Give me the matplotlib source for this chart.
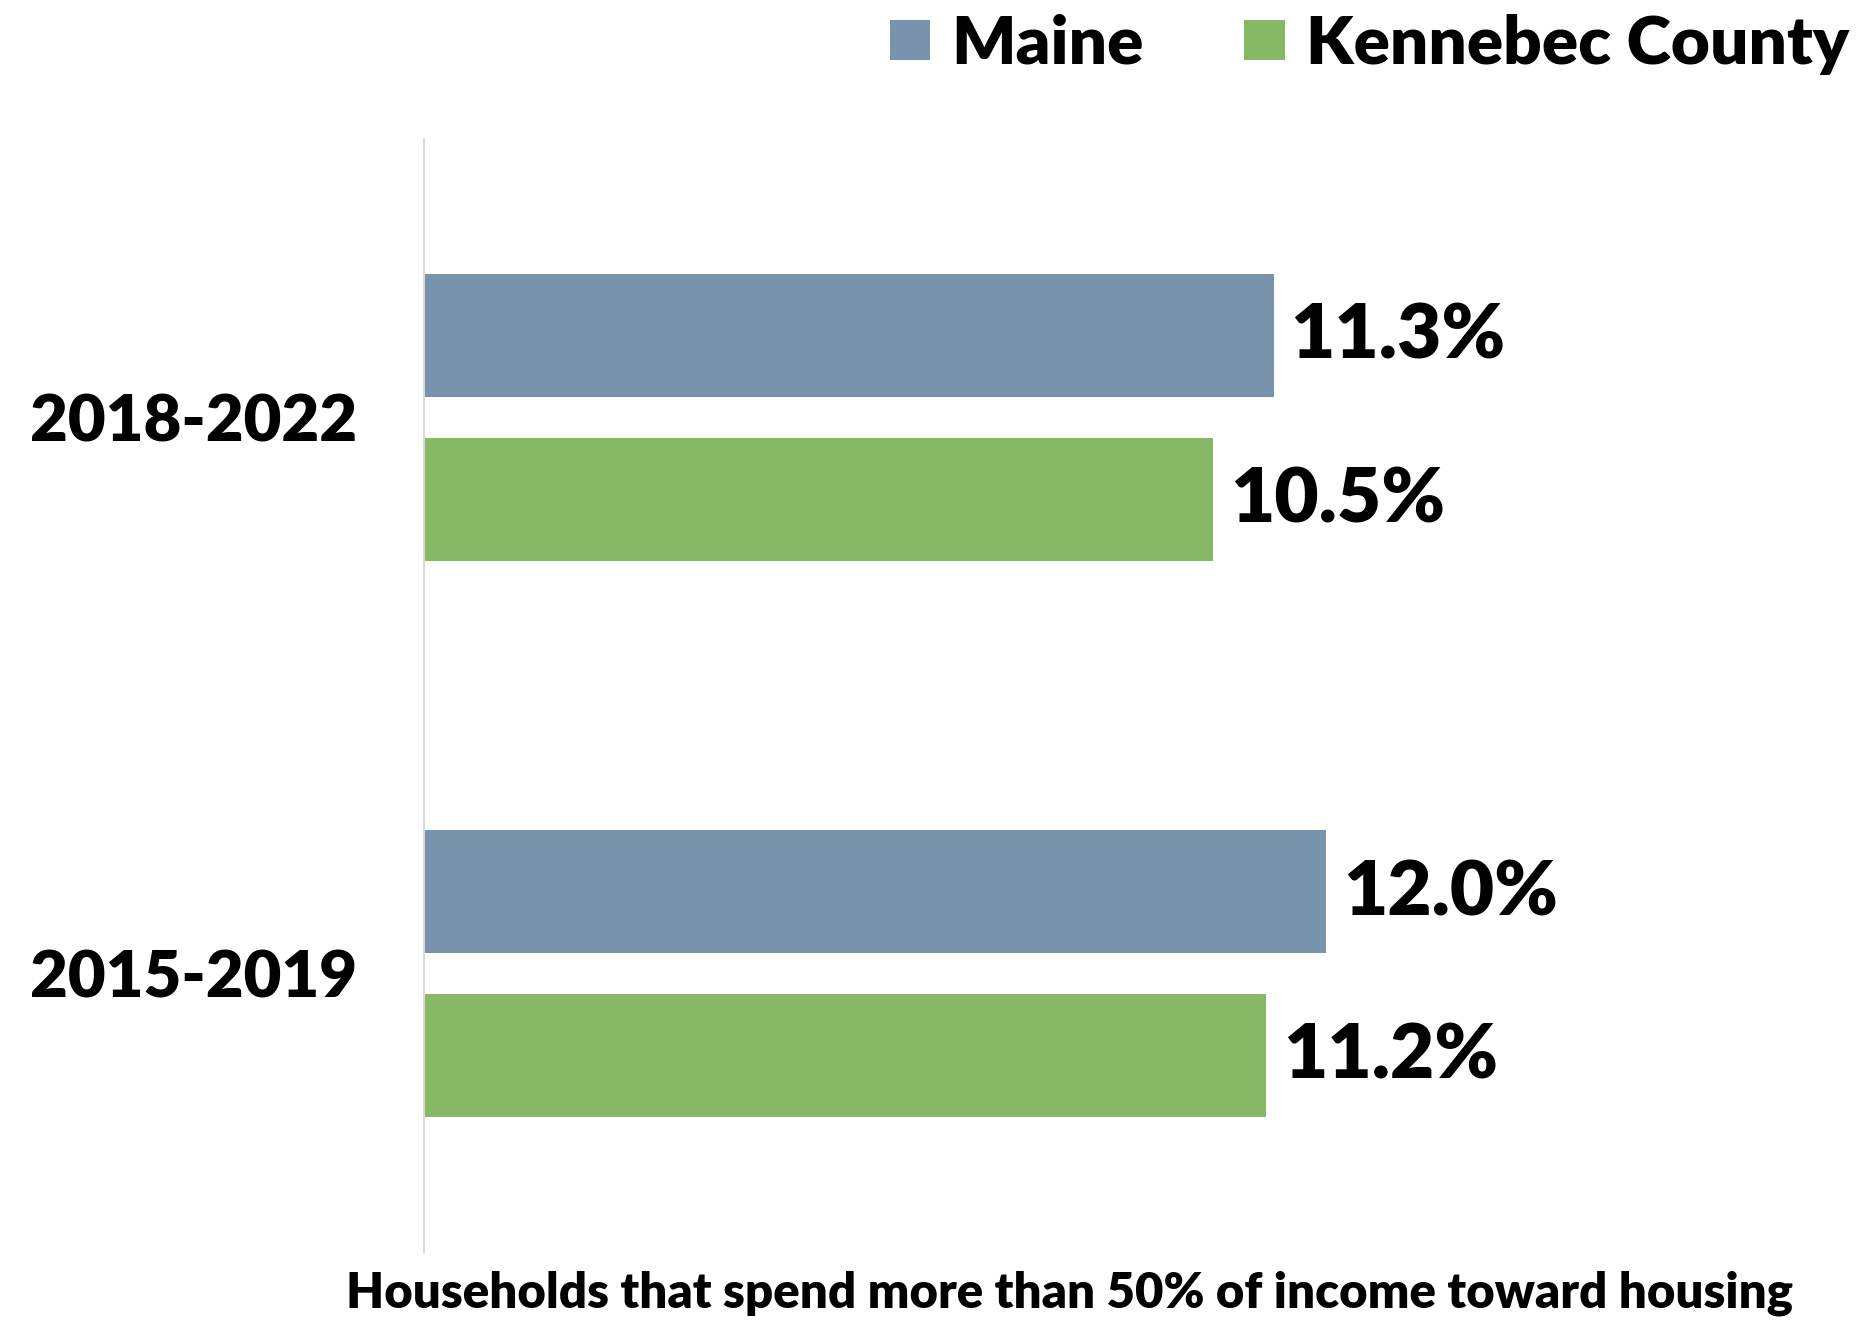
import matplotlib.pyplot as plt
import numpy as np
from matplotlib.patches import Patch

plt.rcParams['font.family'] = ['Lato', 'DejaVu Sans']
plt.rcParams['font.weight'] = 'heavy'

# data
periods = ['2015-2019', '2018-2022']
maine = [12.0, 11.3]
kennebec = [11.2, 10.5]
seriesNames = ['Maine', 'Kennebec County']
seriesColors = ['#7A93AC', '#86B865']
xTitle = 'Households that spend more than 50% of income toward housing'

fig = plt.figure(figsize=(18.6, 13.2), dpi=100)
ax = fig.add_axes([0.228, 0.0515, 0.772, 0.8432])

pos = np.arange(len(periods))
barH = 0.221
off = 0.147
barsM = ax.barh(pos + off, maine, height=barH, color=seriesColors[0])
barsK = ax.barh(pos - off, kennebec, height=barH, color=seriesColors[1])

for bars, vals in [(barsM, maine), (barsK, kennebec)]:
    for b, v in zip(bars, vals):
        ax.annotate(f'{v:.1f}%', (b.get_width(), b.get_y() + b.get_height() / 2),
                    xytext=(12, -1), textcoords='offset points', ha='left', va='center',
                    fontsize=55, fontweight='heavy', color='black')

ax.set_xlim(0, 19.1)
ax.set_ylim(-0.5, 1.5)
ax.set_yticks(pos)
ax.set_yticklabels(periods, fontsize=47, fontweight='heavy')
ax.tick_params(axis='y', length=0, pad=48)
ax.set_xticks([])
for s in ['top', 'right', 'bottom']:
    ax.spines[s].set_visible(False)
ax.spines['left'].set_color('#d9d9d9')
ax.spines['left'].set_linewidth(1.5)

fig.text(0.575, 0.003, xTitle, ha='center', va='bottom', fontsize=35.4, fontweight='heavy')

handles = [Patch(facecolor=c, label=n) for c, n in zip(seriesColors, seriesNames)]
fig.legend(handles=handles, loc='upper right', bbox_to_anchor=(1.012, 1.015), ncol=2,
           frameon=False, handlelength=0.6, handleheight=0.55,
           handletextpad=0.31, columnspacing=1.5, borderaxespad=0.1,
           prop={'weight': 'heavy', 'size': 48.5})

fig.savefig('out.png', dpi=100)
